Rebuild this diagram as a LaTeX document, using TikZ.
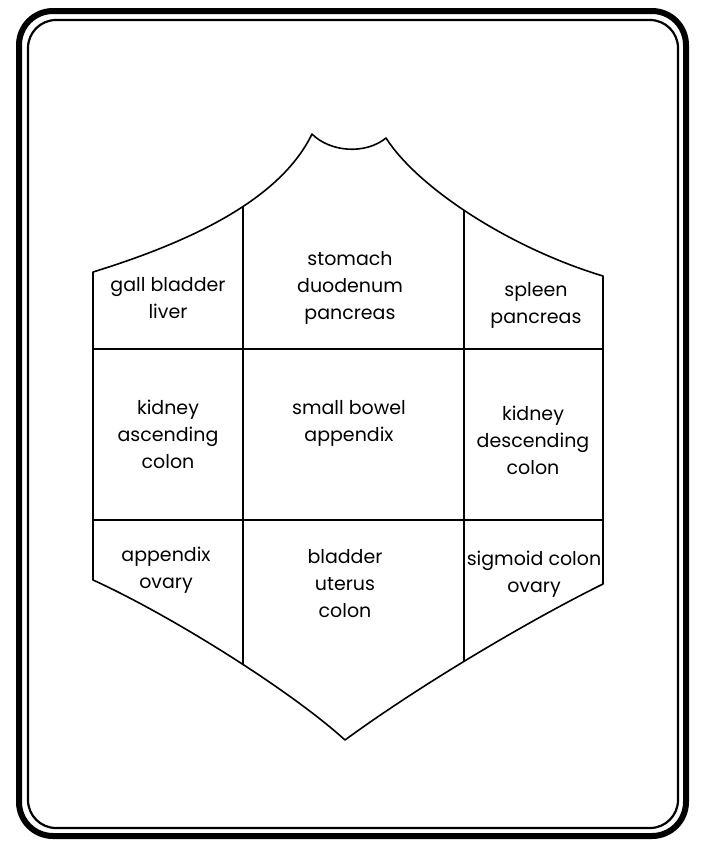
\documentclass[tikz,border=0pt]{standalone}
\usepackage{fontspec}
\setmainfont{Poppins}
\begin{document}
\begin{tikzpicture}[
  x=0.5pt, y=-0.5pt,
  region/.style={align=center, inner sep=0pt, font=\fontsize{9.5}{13.5}\selectfont},
  outline/.style={line width=0.8pt, line join=round},
  divider/.style={line width=1.4pt}
]
  \useasboundingbox (0,0) rectangle (701,843);

  % frame
  \draw[line width=3pt, rounded corners=17pt] (19,11) rectangle (686,836);
  \draw[line width=1.1pt, rounded corners=14pt] (28,20) rectangle (678,828);

  % corners of the body
  \coordinate (tl) at (93,272);
  \coordinate (tr) at (603,276);
  \coordinate (bl) at (93,580);
  \coordinate (br) at (603,584);
  \coordinate (nl) at (312,134);
  \coordinate (nr) at (386,138);
  \coordinate (tip) at (345,740);

  % ends of the dividers (cut off by the body)
  \coordinate (c1t) at (243,150);
  \coordinate (c1b) at (243,720);
  \coordinate (c2t) at (464,150);
  \coordinate (c2b) at (464,720);
  \coordinate (r1l) at (80,349);
  \coordinate (r1r) at (620,349);
  \coordinate (r2l) at (80,520);
  \coordinate (r2r) at (620,520);

  \begin{scope}[outline]
    \draw[clip] (tl) .. controls (190,242) and (280,200) .. (nl)
      .. controls (330,152) and (365,155) .. (nr)
      .. controls (418,188) and (510,248) .. (tr)
      -- (br) .. controls (530,620) and (420,685) .. (tip)
      .. controls (290,690) and (170,615) .. (bl) -- cycle;
    \draw[divider] (c1t) -- (c1b);
    \draw[divider] (c2t) -- (c2b);
    \draw[divider] (r1l) -- (r1r);
    \draw[divider] (r2l) -- (r2r);
  \end{scope}

  % regions
  \node[region] (gall) at (168,298) {gall bladder\\liver};
  \node[region] (stomach) at (350,288) {stomach\\duodenum\\pancreas};
  \node[region] (spleen) at (536,305) {spleen\\pancreas};
  \node[region] (kidneyl) at (168,434) {kidney\\ascending\\colon};
  \node[region] (bowel) at (349,423) {small bowel\\appendix};
  \node[region] (kidneyr) at (533,440) {kidney\\descending\\colon};
  \node[region] (appendix) at (166,570) {appendix\\ovary};
  \node[region] (bladder) at (345,584) {bladder\\uterus\\colon};
  \node[region] (sigmoid) at (534,574) {sigmoid colon\\ovary};
\end{tikzpicture}
\end{document}
